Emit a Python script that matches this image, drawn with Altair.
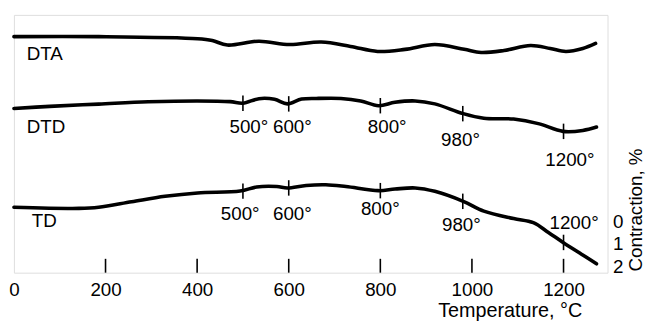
import altair as alt
import pandas as pd

FONT = "Liberation Sans"

# --- curves (temperature °C, vertical value in contraction-% units; DTA/DTD offset on same scale)
dta_T = [0, 185, 401, 433, 466, 535, 602, 671, 735, 794, 854, 919, 983, 1020, 1070, 1128, 1171, 1205, 1242, 1270]
dta_v = [-8.13, -8.13, -8.04, -7.96, -7.76, -7.93, -7.78, -7.89, -7.70, -7.48, -7.57, -7.78, -7.57, -7.43, -7.52, -7.74, -7.61, -7.48, -7.61, -7.83]

dtd_T = [0, 78, 185, 293, 401, 472, 500, 535, 569, 597, 628, 660, 714, 757, 796, 832, 876, 919, 981, 1026, 1091, 1145, 1199, 1242, 1272]
dtd_v = [-4.97, -5.06, -5.16, -5.26, -5.30, -5.27, -5.20, -5.40, -5.37, -5.17, -5.38, -5.41, -5.41, -5.30, -5.09, -5.24, -5.30, -5.17, -4.74, -4.54, -4.50, -4.30, -3.96, -4.00, -4.15]

td_T = [0, 142, 185, 257, 330, 401, 494, 530, 574, 597, 638, 681, 725, 796, 832, 876, 919, 981, 1026, 1091, 1134, 1167, 1199, 1242, 1272]
td_v = [-0.62, -0.57, -0.62, -0.86, -1.10, -1.25, -1.33, -1.51, -1.53, -1.47, -1.58, -1.61, -1.53, -1.35, -1.42, -1.47, -1.32, -0.88, -0.45, -0.12, 0.06, 0.49, 0.93, 1.48, 1.87]

# --- temperature markers on DTD and TD
mark_T = [500, 600, 800, 980, 1200]
mark_text = ["500°", "600°", "800°", "980°", "1200°"]
dtd_mark_v = [-5.20, -5.17, -5.09, -4.74, -3.96]
td_mark_v = [-1.33, -1.47, -1.35, -0.88, 0.93]
dtd_lab_T = [513, 608, 815, 975, 1214]
dtd_lab_v = [-4.17, -4.17, -4.13, -3.59, -2.70]
td_lab_T = [494, 608, 800, 977, 1223]
td_lab_v = [-0.30, -0.30, -0.54, 0.17, 0.08]

# --- curve names
names = ["DTA", "DTD", "TD"]
name_T = [28, 28, 39]
name_v = [-7.35, -4.13, 0.0]

# --- axes
x_ticks = [0, 200, 400, 600, 800, 1000, 1200]
inner_ticks = [200, 400, 600, 800, 1000, 1200]
y_ticks = [0, 1, 2]
X_DOMAIN = [0, 1296]
Y_DOMAIN = [-9.087, 2.261]

curves = pd.concat([
    pd.DataFrame({"T": dta_T, "u": dta_v, "s": "DTA"}),
    pd.DataFrame({"T": dtd_T, "u": dtd_v, "s": "DTD"}),
    pd.DataFrame({"T": td_T, "u": td_v, "s": "TD"}),
])
marks = pd.DataFrame({"T": mark_T * 2, "u": dtd_mark_v + td_mark_v})
mlabels = pd.DataFrame({"T": dtd_lab_T + td_lab_T, "u": dtd_lab_v + td_lab_v, "t": mark_text * 2})
nlabels = pd.DataFrame({"T": name_T, "u": name_v, "t": names})
bticks = pd.DataFrame({"T": inner_ticks})

xscale = alt.Scale(domain=X_DOMAIN, nice=False, zero=False)
yscale = alt.Scale(domain=Y_DOMAIN, nice=False, zero=False, reverse=True)

xaxis = alt.Axis(values=x_ticks, format="d", tickSize=0, domain=False, grid=False, labelFont=FONT,
                 labelFontSize=19, labelColor="black", labelPadding=8, labelFlush=False,
                 title="Temperature, °C", titleFont=FONT, titleFontSize=20, titleFontWeight="normal",
                 titleColor="black", titleX=502, titleY=44, titleAlign="center",
                 titleBaseline="alphabetic")
yaxis = alt.Axis(orient="right", values=y_ticks, format="d", tickSize=0, domain=False, grid=False,
                 labelFont=FONT, labelFontSize=19, labelColor="black", labelPadding=5,
                 title="Contraction, %", titleFont=FONT, titleFontSize=19, titleFontWeight="normal",
                 titleColor="black", titleAngle=270, titleX=28, titleY=197,
                 titleAlign="center", titleBaseline="middle")

X = alt.X("T:Q", scale=xscale, axis=xaxis)
Y = alt.Y("u:Q", scale=yscale, axis=yaxis)

lines = alt.Chart(curves).mark_line(interpolate="catmull-rom", strokeWidth=3.6, color="black",
                                   strokeCap="round").encode(x=X, y=Y, detail="s:N")

rules = alt.Chart(marks).transform_calculate(
    u1="datum.u - 0.34", u2="datum.u + 0.34"
).mark_rule(color="black", strokeWidth=1.6).encode(
    x=X, y=alt.Y("u1:Q", scale=yscale, axis=yaxis), y2="u2:Q")

mtext = alt.Chart(mlabels).mark_text(font=FONT, fontSize=19, color="black", align="center",
                                     baseline="middle").encode(x=X, y=Y, text="t:N")
ntext = alt.Chart(nlabels).mark_text(font=FONT, fontSize=19, color="black", align="left",
                                     baseline="middle").encode(x=X, y=Y, text="t:N")

ticks = alt.Chart(bticks).transform_calculate(
    u1=str(Y_DOMAIN[1]), u2=str(Y_DOMAIN[1] - 0.61)
).mark_rule(color="black", strokeWidth=1.6).encode(
    x=X, y=alt.Y("u1:Q", scale=yscale, axis=yaxis), y2="u2:Q")

chart = alt.layer(lines, rules, mtext, ntext, ticks).properties(
    width=601, height=261,
    autosize=alt.AutoSizeParams(type="none"),
    padding={"left": 6, "top": 5, "right": 41, "bottom": 52},
).configure_view(stroke="black", strokeWidth=2).configure(background="white")

chart.save("out.html", embed_options={"renderer": "svg", "actions": False})
